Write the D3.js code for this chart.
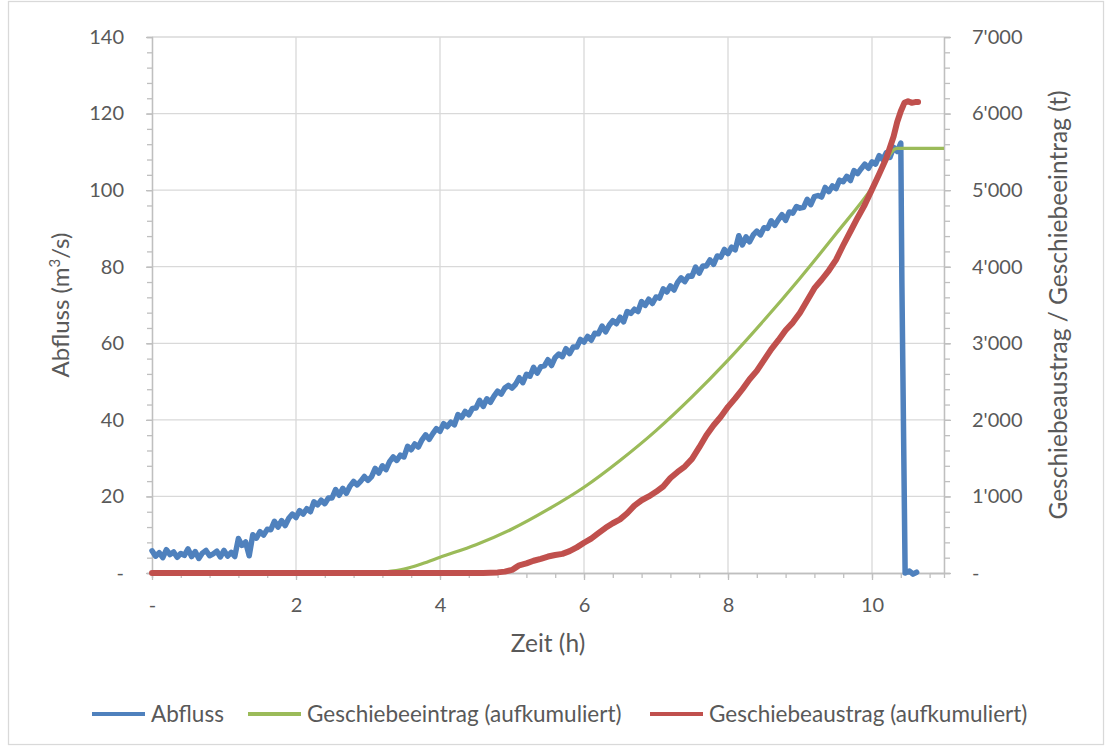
<!DOCTYPE html>
<html>
<head>
<meta charset="utf-8">
<script src="https://cdn.jsdelivr.net/npm/d3@7"></script>
<style>
  body { margin: 0; background: #fff; }
  text { font-family: Lato, "Open Sans", sans-serif; fill: #595959; }
</style>
</head>
<body>
<svg id="chart" width="1106" height="747"></svg>
<script>
// Axis ticks
const zeitTicks = [0, 2, 4, 6, 8, 10];
const abflussTicks = [0, 20, 40, 60, 80, 100, 120, 140];
const geschiebeTicks = [0, 1000, 2000, 3000, 4000, 5000, 6000, 7000];

// Abfluss (m³/s), logged every 0.05 h from 0 h to 10.4 h
const abflussStep = 0.05;
const abflussWerte = [
  // 0 - 1.15 h
  5.8, 4.4, 5.3, 4.0, 6.1, 4.8, 5.5, 4.1, 5.1, 4.6, 6.3, 4.3,
  5.6, 3.8, 5.2, 5.9, 4.5, 5.0, 5.7, 4.2, 5.9, 4.4, 5.4, 4.3,
  // 1.2 - 2.0 h
  9.0, 7.2, 8.1, 4.5, 10.0, 9.1, 10.8, 9.9, 11.4, 11.3, 13.5, 12.0,
  13.7, 12.4, 14.3, 15.4, 14.5,
  // 2.05 - 3.0 h
  16.3, 15.4, 16.8, 16.0, 18.6, 17.8, 19.0, 18.1, 19.6, 19.6,
  21.8, 20.3, 22.1, 20.8, 22.7, 23.9, 23.0, 24.0, 25.2, 24.2,
  // 3.05 - 4.0 h
  25.2, 27.3, 26.1, 28.0, 27.0, 29.1, 30.3, 29.4, 30.8, 30.3,
  33.1, 32.2, 33.7, 32.9, 34.8, 36.1, 34.9, 36.4, 37.7, 37.0,
  // 4.05 - 5.0 h
  39.0, 38.2, 39.4, 38.7, 41.4, 40.6, 42.2, 41.3, 43.0, 43.1,
  45.1, 43.5, 45.5, 44.6, 46.2, 47.5, 46.7, 48.3, 49.0, 48.3,
  // 5.05 - 6.0 h
  49.3, 51.0, 49.7, 51.9, 51.4, 53.7, 52.2, 53.9, 54.1, 55.7,
  54.2, 56.3, 57.2, 56.5, 58.6, 57.3, 59.0, 59.0, 61.0, 60.3,
  // 6.05 - 7.0 h
  61.8, 60.8, 62.6, 62.5, 64.5, 63.0, 64.7, 65.9, 65.1, 66.8,
  65.6, 68.3, 67.8, 68.9, 68.3, 70.9, 69.9, 71.5, 70.4, 72.1,
  // 7.05 - 8.0 h
  71.8, 74.2, 73.4, 75.0, 73.9, 75.9, 77.1, 76.1, 77.6, 77.5,
  79.9, 78.3, 80.2, 80.2, 81.8, 80.6, 82.8, 82.5, 84.5, 83.4,
  // 8.05 - 9.0 h
  85.1, 84.4, 88.1, 85.7, 87.8, 86.5, 88.3, 89.3, 88.3, 90.2,
  90.0, 92.0, 90.8, 92.3, 93.6, 92.1, 94.3, 94.0, 95.7, 95.3,
  // 9.05 - 10.0 h
  95.5, 97.6, 96.2, 98.3, 98.6, 98.2, 100.7, 99.6, 101.1, 100.4,
  102.6, 102.2, 103.6, 102.5, 105.1, 104.3, 105.6, 106.8, 105.7, 107.4,
  // 10.05 - 10.4 h
  106.8, 109.0, 108.0, 109.8, 108.6, 111.2, 110.1, 112.3
];
// Shutdown at the end of the run
const abflussEndeZeit = [10.415, 10.46, 10.52, 10.57, 10.62];
const abflussEndeWert = [76, 0, 0.5, -0.3, 0.2];

// Geschiebeeintrag, cumulative (t)
const eintragZeit = [0, 3.0, 3.25, 3.5, 3.75, 4.0, 4.5, 5.0, 5.5, 6.0, 6.5, 7.0, 7.5, 8.0, 8.5, 9.0, 9.5, 10.0, 10.35, 11.0];
const eintragWert = [0, 0, 15, 50, 120, 205, 370, 575, 830, 1120, 1470, 1860, 2300, 2780, 3300, 3850, 4430, 5030, 5545, 5545];

// Geschiebeaustrag, cumulative (t)
const austragZeit = [
  0, 4.6, 4.7, 4.8, 4.9, 5.0, 5.05, 5.1, 5.2, 5.3, 5.4, 5.5, 5.6, 5.7, 5.8, 5.9,
  6.0, 6.1, 6.2, 6.3, 6.4, 6.5, 6.6, 6.7, 6.8, 6.9, 7.0, 7.1, 7.2, 7.3, 7.4, 7.5,
  7.6, 7.7, 7.8, 7.9, 8.0, 8.1, 8.2, 8.3, 8.4, 8.5, 8.6, 8.7, 8.8, 8.9, 9.0, 9.1,
  9.2, 9.3, 9.4, 9.5, 9.6, 9.7, 9.8, 9.9, 10.0, 10.1, 10.2, 10.3, 10.35, 10.4,
  10.45, 10.5, 10.55, 10.6, 10.64
];
const austragWert = [
  0, 0, 3, 8, 18, 40, 70, 100, 125, 160, 185, 215, 235, 250, 285, 335,
  395, 450, 520, 590, 650, 700, 780, 880, 950, 1000, 1060, 1130, 1240, 1320, 1390, 1490,
  1640, 1800, 1930, 2040, 2170, 2280, 2400, 2530, 2640, 2780, 2920, 3040, 3170, 3270, 3400, 3560,
  3720, 3830, 3950, 4090, 4280, 4460, 4640, 4810, 5010, 5210, 5420, 5700, 5890, 6030,
  6140, 6160, 6140, 6150, 6150
];

const legendLabels = ["Abfluss", "Geschiebeeintrag (aufkumuliert)", "Geschiebeaustrag (aufkumuliert)"];
const colors = { abfluss: "#4F81BD", eintrag: "#9BBB59", austrag: "#C0504D" };

// Assemble point lists
const abfluss = abflussWerte.map((v, i) => ({ t: +(i * abflussStep).toFixed(3), v }))
  .concat(abflussEndeZeit.map((t, i) => ({ t, v: abflussEndeWert[i] })));
const eintrag = eintragZeit.map((t, i) => ({ t, v: eintragWert[i] }));
const austrag = austragZeit.map((t, i) => ({ t, v: austragWert[i] }));

const svg = d3.select("#chart");
const plot = { left: 152, right: 944, top: 37, bottom: 573 };

const x = d3.scaleLinear().domain([0, 11]).range([plot.left, plot.right]);
const yL = d3.scaleLinear().domain([0, 140]).range([plot.bottom, plot.top]);
const yR = d3.scaleLinear().domain([0, 7000]).range([plot.bottom, plot.top]);

const gridColor = "#d9d9d9";
const axisColor = "#bfbfbf";

// Chart frame
svg.append("rect")
  .attr("x", 8.5).attr("y", 1.5).attr("width", 1095).attr("height", 743)
  .attr("fill", "#fff").attr("stroke", gridColor).attr("stroke-width", 1.25);

// Gridlines
const grid = svg.append("g");
grid.selectAll("line.h").data(abflussTicks.filter(d => d > 0)).join("line")
  .attr("x1", plot.left).attr("x2", plot.right)
  .attr("y1", d => yL(d)).attr("y2", d => yL(d))
  .attr("stroke", gridColor).attr("stroke-width", 1.3);
grid.selectAll("line.v").data(zeitTicks.filter(d => d > 0)).join("line")
  .attr("x1", d => x(d)).attr("x2", d => x(d))
  .attr("y1", plot.top).attr("y2", plot.bottom)
  .attr("stroke", gridColor).attr("stroke-width", 1.3);

function styleAxis(g) {
  g.select(".domain").attr("stroke", axisColor).attr("stroke-width", 1.3);
  g.selectAll(".tick line").attr("stroke", axisColor).attr("stroke-width", 1.3);
  g.selectAll(".tick text").style("font-size", "20px").attr("fill", "#595959");
}

const minorX = d3.range(0, 11.01, 0.4).map(d => +d.toFixed(1));
const minorL = d3.range(0, 140.01, 4);
const minorR = d3.range(0, 7000.01, 200);

// Minor ticks
svg.append("g").attr("transform", `translate(0,${plot.bottom})`)
  .call(d3.axisBottom(x).tickValues(minorX).tickSize(5).tickFormat("")).call(styleAxis);
svg.append("g").attr("transform", `translate(${plot.left},0)`)
  .call(d3.axisLeft(yL).tickValues(minorL).tickSize(5).tickFormat("")).call(styleAxis);
svg.append("g").attr("transform", `translate(${plot.right},0)`)
  .call(d3.axisRight(yR).tickValues(minorR).tickSize(6).tickFormat("")).call(styleAxis);

// Major ticks (crossing) with labels
const dash = d => d === 0 ? "-" : d;
svg.append("g").attr("transform", `translate(0,${plot.bottom})`)
  .call(d3.axisBottom(x).tickValues(zeitTicks).tickSizeInner(7).tickSizeOuter(0).tickPadding(18).tickFormat(dash))
  .call(styleAxis);
svg.append("g").attr("transform", `translate(${plot.left},0)`)
  .call(d3.axisLeft(yL).tickValues(abflussTicks).tickSizeInner(6).tickSizeOuter(0).tickPadding(22).tickFormat(dash))
  .call(styleAxis);
svg.append("g").attr("transform", `translate(${plot.right},0)`)
  .call(d3.axisRight(yR).tickValues(geschiebeTicks).tickSizeInner(7).tickSizeOuter(0).tickPadding(21)
    .tickFormat(d => d === 0 ? "-" : d3.format(",")(d).replace(/,/g, "'")))
  .call(styleAxis);
// inner halves of the crossing ticks
svg.append("g").attr("transform", `translate(${plot.left},0)`)
  .call(d3.axisLeft(yL).tickValues([0]).tickSize(-6).tickFormat("")).call(styleAxis)
  .select(".domain").remove();
svg.append("g").attr("transform", `translate(${plot.right},0)`)
  .call(d3.axisRight(yR).tickValues([0]).tickSize(-14).tickFormat("")).call(styleAxis)
  .select(".domain").remove();

// Series
const lineL = d3.line().x(d => x(d.t)).y(d => yL(d.v));
const lineR = d3.line().x(d => x(d.t)).y(d => yR(d.v));

svg.append("path").datum(abfluss)
  .attr("d", lineL).attr("fill", "none").attr("stroke", colors.abfluss)
  .attr("stroke-width", 5.5).attr("stroke-linejoin", "round").attr("stroke-linecap", "round");
svg.append("path").datum(eintrag)
  .attr("d", d3.line().x(d => x(d.t)).y(d => yR(d.v)).curve(d3.curveMonotoneX))
  .attr("fill", "none").attr("stroke", colors.eintrag)
  .attr("stroke-width", 3.2).attr("stroke-linejoin", "round");
svg.append("path").datum(austrag)
  .attr("d", lineR).attr("fill", "none").attr("stroke", colors.austrag)
  .attr("stroke-width", 6).attr("stroke-linejoin", "round").attr("stroke-linecap", "round");

// Axis titles
svg.append("text").attr("x", (plot.left + plot.right) / 2).attr("y", 652)
  .attr("text-anchor", "middle").style("font-size", "24.5px").text("Zeit (h)");

const tl = svg.append("text")
  .attr("transform", `translate(69,${(plot.top + plot.bottom) / 2}) rotate(-90)`)
  .attr("text-anchor", "middle").style("font-size", "24px");
tl.append("tspan").text("Abfluss (m");
tl.append("tspan").attr("baseline-shift", "super").style("font-size", "15px").text("3");
tl.append("tspan").text("/s)");

svg.append("text")
  .attr("transform", `translate(1067,${(plot.top + plot.bottom) / 2}) rotate(-90)`)
  .attr("text-anchor", "middle").style("font-size", "24.5px")
  .text("Geschiebeaustrag / Geschiebeeintrag (t)");

// Legend
const legendX = [92, 248, 650];
const legendY = 714;
const lg = svg.append("g");
legendLabels.forEach((label, i) => {
  const c = [colors.abfluss, colors.eintrag, colors.austrag][i];
  lg.append("line").attr("x1", legendX[i]).attr("x2", legendX[i] + 53)
    .attr("y1", legendY).attr("y2", legendY).attr("stroke", c).attr("stroke-width", 4);
  lg.append("text").attr("x", legendX[i] + 59).attr("y", legendY).attr("dy", "0.35em")
    .style("font-size", "22.5px").text(label);
});
</script>
</body>
</html>
